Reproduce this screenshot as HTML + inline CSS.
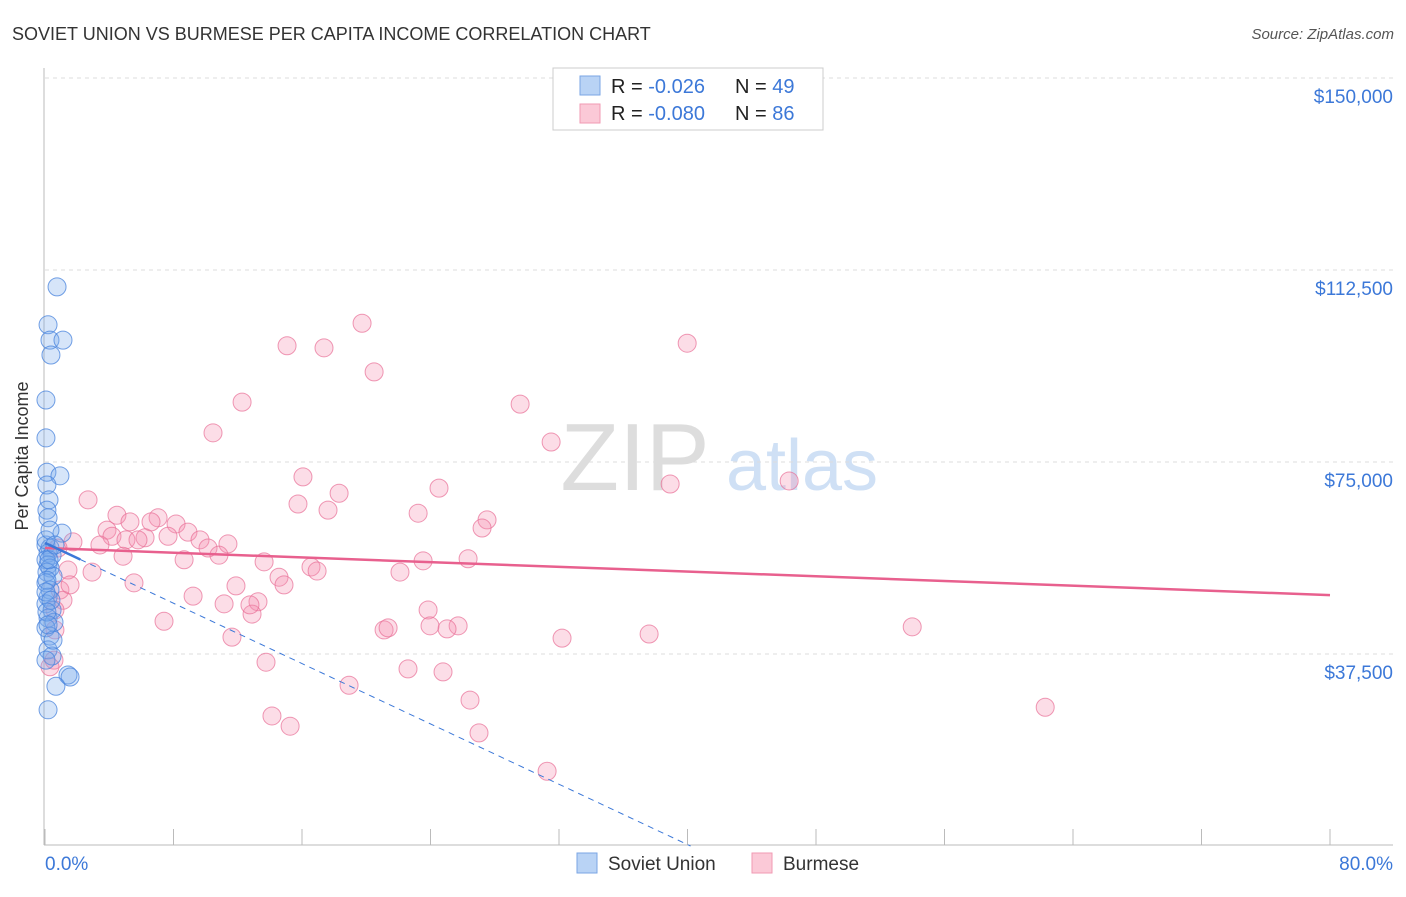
<!DOCTYPE html>
<html><head><meta charset="utf-8"><style>
body{margin:0;background:#fff;font-family:"Liberation Sans",sans-serif}
svg text{font-family:"Liberation Sans",sans-serif}
</style></head><body>
<svg id="c" width="1406" height="892">
<text x="12" y="40" font-size="18" fill="#333">SOVIET UNION VS BURMESE PER CAPITA INCOME CORRELATION CHART</text>
<text x="1394" y="39" font-size="15" fill="#555" font-style="italic" text-anchor="end">Source: ZipAtlas.com</text>
<text x="28" y="456" font-size="18" fill="#333" text-anchor="middle" transform="rotate(-90 28 456)">Per Capita Income</text>
<g><text x="635" y="490" font-size="96" fill="#ddd" font-family="Liberation Serif" text-anchor="middle">ZIP</text><text x="802" y="490" font-size="72" fill="#cfe0f5" text-anchor="middle">atlas</text></g>
<g id="grid"></g><g id="pts"></g><g id="lines"></g>
<g>
<rect x="553" y="68" width="270" height="62" fill="#fff" stroke="#ccc"/>
<rect x="580" y="76" width="20" height="19" fill="#b9d3f5" stroke="#7aa6e4"/>
<rect x="580" y="104" width="20" height="19" fill="#fbc9d7" stroke="#f09ab3"/>
<text x="611" y="93" font-size="20" fill="#222">R = <tspan fill="#3c78d8">-0.026</tspan><tspan x="735">N = </tspan><tspan fill="#3c78d8">49</tspan></text>
<text x="611" y="120" font-size="20" fill="#222">R = <tspan fill="#3c78d8">-0.080</tspan><tspan x="735">N = </tspan><tspan fill="#3c78d8">86</tspan></text>
</g>
<g>
<rect x="577" y="853" width="20" height="20" fill="#b9d3f5" stroke="#7aa6e4"/>
<text x="608" y="870" font-size="19" fill="#333">Soviet Union</text>
<rect x="752" y="853" width="20" height="20" fill="#fbc9d7" stroke="#f09ab3"/>
<text x="783" y="870" font-size="19" fill="#333">Burmese</text>
</g>
</svg>
<script>
const yTicks=[37500,75000,112500,150000];
const yTickLabels=["$37,500","$75,000","$112,500","$150,000"];
const xTicks=[0,8,16,24,32,40,48,56,64,72,80];
const xLabels=["0.0%","80.0%"];
const sovietX=[0.75,0.19,0.31,1.12,0.37,0.06,0.06,0.12,0.93,0.12,0.25,0.12,0.19,1.06,0.06,0.31,0.19,0.44,0.06,0.19,0.31,0.12,0.5,0.06,0.31,0.19,0.06,0.44,0.19,0.56,0.06,0.31,0.19,0.44,1.43,1.56,0.68,0.19,0.06,0.25,0.12,0.06,0.37,0.12,0.5,0.06,0.19,0.31,0.62];
const sovietY=[109.2,101.8,98.8,98.8,95.9,87.1,79.7,73.0,72.3,70.5,67.6,65.6,64.1,61.1,58.8,58.2,57.2,56.8,55.9,54.9,54.3,53.5,52.7,51.4,50.0,48.6,47.3,46.1,44.5,43.7,42.6,41.0,38.3,37.1,33.4,33.0,31.2,26.6,59.8,55.9,51.9,49.6,48.0,45.7,40.2,36.3,43.2,61.7,58.8];
const burX=[15.07,17.37,19.74,20.49,39.98,12.27,29.58,10.46,31.51,16.06,18.31,24.53,38.92,46.33,2.68,15.75,17.62,23.23,27.52,27.21,4.48,5.29,7.04,6.60,8.16,8.90,3.86,4.17,5.04,6.23,7.66,9.65,11.39,10.15,10.83,1.74,3.42,5.79,4.86,8.66,13.64,26.34,23.54,16.56,16.94,22.10,14.57,1.43,2.93,5.54,11.89,14.88,9.22,13.26,11.15,12.89,12.76,23.85,7.41,0.93,1.12,23.97,25.72,21.11,21.36,25.03,32.19,37.61,53.99,11.64,0.62,13.76,22.60,24.78,18.93,26.46,14.13,15.26,27.02,31.26,62.27,0.56,0.31,0.81,1.56,0.62];
const burY=[97.7,97.3,102.1,92.6,98.2,86.7,86.3,80.7,78.9,72.1,68.9,69.9,70.7,71.3,67.6,66.8,65.6,65.0,63.7,62.1,64.6,63.3,64.1,63.3,62.9,61.3,61.7,60.5,59.8,60.2,60.5,59.8,59.0,58.2,56.8,59.4,58.8,59.8,56.6,55.9,55.5,56.1,55.7,54.5,53.7,53.5,52.5,53.9,53.5,51.4,50.8,51.0,48.8,47.7,47.3,45.3,47.1,46.1,43.9,50.0,48.0,43.0,43.0,42.2,42.6,42.4,40.6,41.4,42.8,40.8,42.2,35.9,34.6,34.0,31.4,28.5,25.4,23.4,22.1,14.6,27.1,36.3,35.0,58.2,51.0,46.1];
const trendBur=[58.2,49.0];
const trendSov=[59.2,-1.473];
const NS="http://www.w3.org/2000/svg";
const X=v=>45+v/80*1285, Y=k=>846-k*1000/37500*192;
function mk(t,a,p){const e=document.createElementNS(NS,t);for(const k in a)e.setAttribute(k,a[k]);p.appendChild(e);return e;}
const g=document.getElementById('grid');
mk('line',{x1:44,y1:68,x2:44,y2:845,stroke:'#bbb'},g);
mk('line',{x1:44,y1:845,x2:1393,y2:845,stroke:'#bbb'},g);
yTicks.forEach((t,i)=>{
 const l=mk('line',{x1:45,x2:1393,y1:Y(t/1000),y2:Y(t/1000),stroke:'#ddd','stroke-dasharray':'4,4'},g);
 
 
 const tx=mk('text',{x:1393,y:Y(t/1000)+25,'font-size':19,fill:'#3c78d8','text-anchor':'end'},g);
 tx.textContent=yTickLabels[i];
 
 
});
xTicks.forEach(t=>{
 const l=mk('line',{x1:X(t),x2:X(t),y1:829,y2:845,stroke:'#bbb'},g);
 
 
});
[[0,'start',45],[80,'end',1393]].forEach((d,i)=>{
 const tx=mk('text',{x:d[2],y:870,'font-size':19,fill:'#3c78d8','text-anchor':d[1]},g);
 tx.textContent=xLabels[i];
 
 
});
const p=document.getElementById('pts');
burX.forEach((x,i)=>{
 const c=mk('circle',{cx:X(x),cy:Y(burY[i]),r:9,fill:'rgba(244,143,177,0.3)',stroke:'rgba(232,110,150,0.7)','stroke-width':1},p);
 
 
});
sovietX.forEach((x,i)=>{
 const c=mk('circle',{cx:X(x),cy:Y(sovietY[i]),r:9,fill:'rgba(120,170,235,0.3)',stroke:'rgba(70,130,220,0.75)','stroke-width':1},p);
 
 
});
const L=document.getElementById('lines');
const lb=mk('line',{x1:X(0),y1:Y(trendBur[0]),x2:X(80),y2:Y(trendBur[1]),stroke:'#e8608e','stroke-width':2.5},L);


const xEnd=trendSov[0]/(-trendSov[1]);
const ls=mk('line',{x1:X(2.2),y1:Y(trendSov[0]+trendSov[1]*2.2),x2:X(xEnd),y2:Y(0),stroke:'#3c78d8','stroke-width':1,'stroke-dasharray':'6,5'},L);


const ls2=mk('line',{x1:X(0),y1:Y(trendSov[0]),x2:X(2.2),y2:Y(trendSov[0]+trendSov[1]*2.2),stroke:'#3c78d8','stroke-width':2.5},L);


</script>
</body></html>
